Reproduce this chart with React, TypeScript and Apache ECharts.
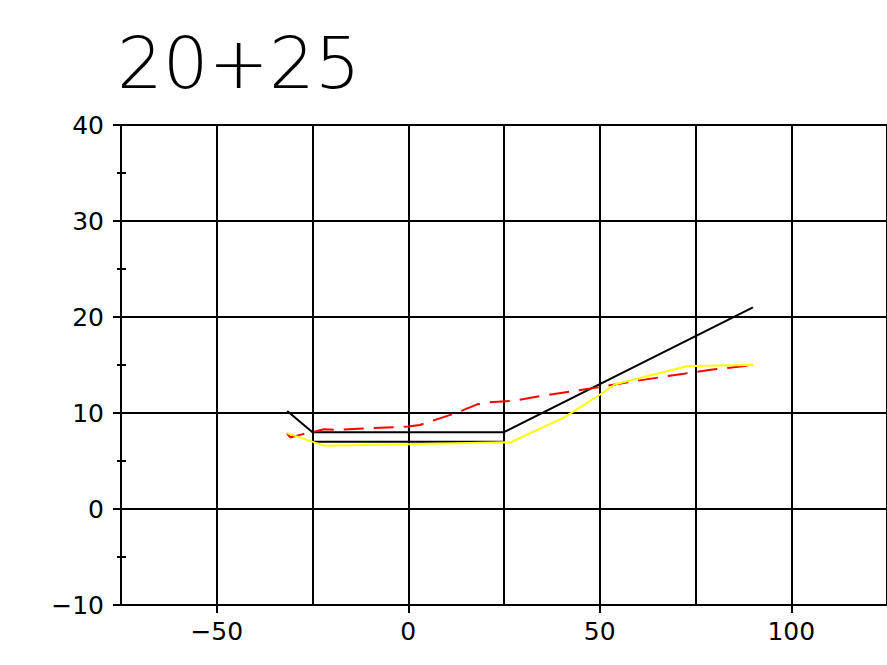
import React, { useEffect, useRef } from "react";
import * as echarts from "echarts";

const titleText = "20+25";

const xTickLabels = [-50, 0, 50, 100];
const yMinorTicks = [-5, 5, 15, 25, 35];

const designX = [-31.6, -25, 25, 90];
const designY = [10.2, 8.0, 8.0, 21.0];

const subgradeX = [-25, 25];
const subgradeY = [7.0, 7.0];

const redX = [-31.7, -30.8, -27.5, -25, -22, -18, 0, 3, 12.5, 18, 21, 28, 35, 45, 50, 58, 72, 79, 90];
const redY = [7.9, 7.45, 7.8, 8.0, 8.3, 8.25, 8.6, 8.75, 10.0, 10.9, 11.1, 11.3, 11.8, 12.4, 12.7, 13.25, 14.1, 14.5, 15.0];

const yellowX = [-31.7, -22, 0, 25, 26.5, 37.5, 40.5, 50, 54, 73, 90];
const yellowY = [7.9, 6.6, 6.75, 6.95, 6.9, 8.95, 9.5, 11.9, 13.0, 14.9, 15.0];

const pairs = (xs: number[], ys: number[]) => xs.map((x, i) => [x, ys[i]]);
const fmt = (v: number) => (v < 0 ? "\u2212" + Math.abs(v) : String(v));

export default function App() {
  const ref = useRef<HTMLDivElement>(null);
  useEffect(() => {
    if (!ref.current) return;
    const chart = echarts.init(ref.current, undefined, { renderer: "svg" });
    const font = "DejaVu Sans";
    const black = { color: "#000", width: 2 };
    chart.setOption({
      animation: false,
      backgroundColor: "#fff",
      title: {
        text: titleText,
        left: 112,
        top: 22,
        textStyle: { fontSize: 72, fontWeight: 200, fontFamily: font, color: "#000" },
      },
      grid: { left: 121, top: 125, width: 768, height: 480, containLabel: false },
      xAxis: [
        {
          type: "value",
          min: -75,
          max: 125,
          interval: 25,
          axisLine: { show: true, onZero: false, lineStyle: black },
          axisTick: { show: true, customValues: xTickLabels, length: 8, lineStyle: black },
          axisLabel: {
            customValues: xTickLabels,
            formatter: (v: number) => fmt(v),
            margin: 14,
            fontSize: 25,
            fontFamily: font,
            color: "#000",
          },
          splitLine: { show: false },
        },
        {
          type: "value",
          min: -75,
          max: 125,
          interval: 25,
          position: "bottom",
          axisLine: { show: false, onZero: false },
          axisTick: { show: false },
          axisLabel: { show: false },
          splitLine: { show: true, lineStyle: black },
        },
      ],
      yAxis: [
        {
          type: "value",
          min: -10,
          max: 40,
          interval: 10,
          axisLine: { show: true, onZero: false, lineStyle: black },
          axisTick: { show: true, length: 8, lineStyle: black },
          minorTick: { show: true, splitNumber: 2, length: 4, lineStyle: black },
          axisLabel: {
            formatter: (v: number) => fmt(v),
            margin: 17,
            fontSize: 25,
            fontFamily: font,
            color: "#000",
          },
          splitLine: { show: true, lineStyle: black },
        },
        {
          type: "value",
          min: -10,
          max: 40,
          interval: 10,
          position: "left",
          axisLine: { show: false, onZero: false },
          axisTick: { show: true, inside: true, customValues: yMinorTicks, length: 5, lineStyle: black },
          axisLabel: { show: false },
          splitLine: { show: false },
        },
      ],
      series: [
        {
          type: "line",
          data: pairs(designX, designY),
          symbol: "none",
          lineStyle: { color: "#000", width: 2 },
          z: 3,
        },
        {
          type: "line",
          data: pairs(subgradeX, subgradeY),
          symbol: "none",
          lineStyle: { color: "#000", width: 2 },
          z: 3,
        },
        {
          type: "line",
          data: pairs(redX, redY),
          symbol: "none",
          lineStyle: { color: "#ff0000", width: 2, type: [20, 10] },
          z: 4,
        },
        {
          type: "line",
          data: pairs(yellowX, yellowY),
          symbol: "none",
          lineStyle: { color: "#ffff00", width: 2 },
          z: 5,
        },
      ],
    });
    return () => chart.dispose();
  }, []);
  return (
    <div
      ref={ref}
      style={{ position: "fixed", left: 0, top: 0, width: 887, height: 665, background: "#fff" }}
    />
  );
}
